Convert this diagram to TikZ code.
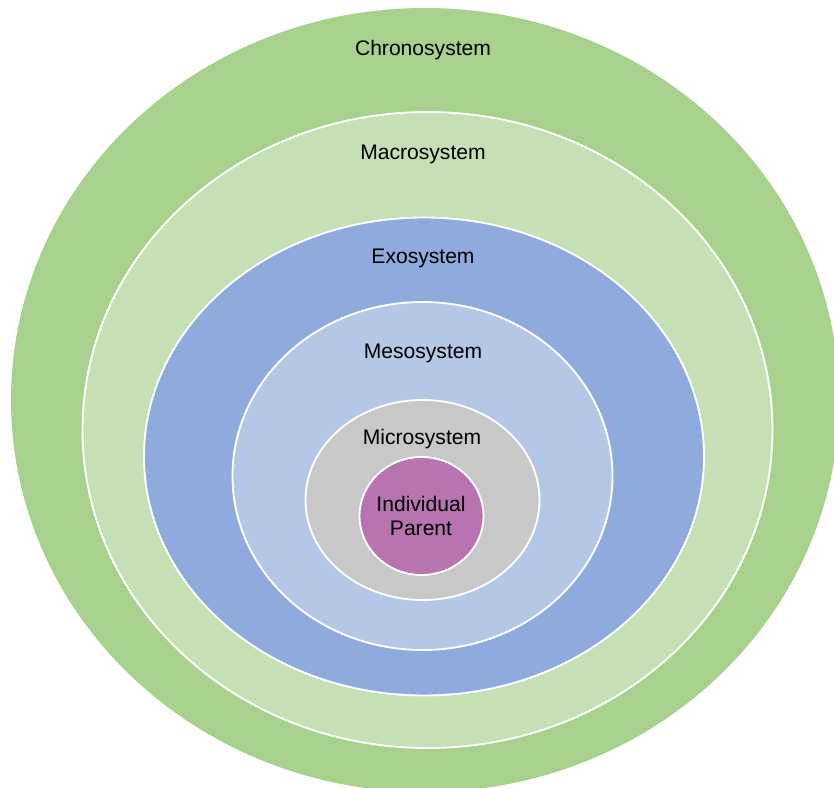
\documentclass[tikz,border=0pt]{standalone}
\usepackage{fontspec}
\setmainfont{Liberation Sans}
\usepackage{tikz}

\definecolor{chronogreen}{HTML}{A9D18E}
\definecolor{macrogreen}{HTML}{C5E0B4}
\definecolor{exoblue}{HTML}{8FAADC}
\definecolor{mesoblue}{HTML}{B4C7E7}
\definecolor{microgray}{HTML}{C8C8C8}
\definecolor{parentpurple}{HTML}{B774B0}

\begin{document}
\begin{tikzpicture}[x=0.03cm, y=-0.03cm,
    ring/.style={draw=white, line width=1.6pt},
    every node/.style={font=\fontsize{18}{21}\selectfont, text=black, align=center}]
    \useasboundingbox (0,0) rectangle (834,788);
    \clip (0,0) rectangle (834,788);
    % systems, outermost first
    \fill[chronogreen] (425,400) ellipse [x radius=414, y radius=392];
    \filldraw[ring, fill=macrogreen] (427.5,430) ellipse [x radius=345, y radius=318];
    \filldraw[ring, fill=exoblue] (424,456.5) ellipse [x radius=280, y radius=239];
    \filldraw[ring, fill=mesoblue] (422.5,476) ellipse [x radius=190, y radius=174];
    \filldraw[ring, fill=microgray] (422.5,500) ellipse [x radius=117, y radius=100];
    \filldraw[ring, fill=parentpurple] (421.5,516) ellipse [x radius=62, y radius=59];
    % labels
    \node (chrono) at (423,50) {Chronosystem};
    \node (macro) at (423,154) {Macrosystem};
    \node (exo) at (423,258) {Exosystem};
    \node (meso) at (423,353) {Mesosystem};
    \node (micro) at (422,439) {Microsystem};
    \node (parent) at (421,516) {Individual\\Parent};
\end{tikzpicture}
\end{document}
